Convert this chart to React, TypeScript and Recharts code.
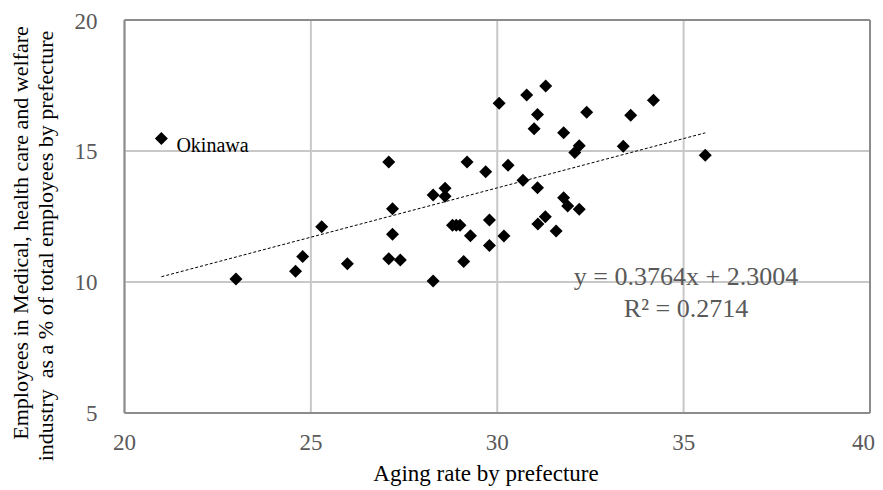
import React from "react";
import {
  ScatterChart,
  Scatter,
  XAxis,
  YAxis,
  CartesianGrid,
  ReferenceLine,
  LabelList,
} from "recharts";

// aging rate (%) by prefecture
const agingRate = [
  20.99, 22.99, 24.59, 24.78, 25.29, 25.98, 27.09, 27.19, 27.19, 27.09, 27.4,
  28.28, 28.28, 28.6, 28.6, 28.8, 28.9, 29.0, 29.1, 29.19, 29.28, 29.69, 29.79,
  29.79, 30.05, 30.18, 30.29, 30.69, 30.79, 30.99, 31.08, 31.08, 31.09, 31.29,
  31.3, 31.58, 31.78, 31.78, 31.89, 32.08, 32.2, 32.2, 32.4, 33.38, 33.58,
  34.19, 35.58,
];

// medical, health care & welfare employees as % of total
const medicalShare = [
  15.48, 10.11, 10.41, 10.97, 12.11, 10.7, 14.58, 12.8, 11.82, 10.89, 10.84,
  10.04, 13.32, 13.58, 13.27, 12.17, 12.17, 12.17, 10.78, 14.58, 11.77, 14.21,
  12.37, 11.39, 16.82, 11.76, 14.46, 13.88, 17.14, 15.85, 16.39, 13.6, 12.21,
  12.49, 17.48, 11.95, 15.7, 13.22, 12.9, 14.94, 15.2, 12.78, 16.48, 15.18,
  16.36, 16.94, 14.84,
];

const pointNames = ["Okinawa"];

const xTicks = [20, 25, 30, 35, 40];
const yTicks = [5, 10, 15, 20];

const slope = 0.3764;
const intercept = 2.3004;
const rSquared = 0.2714;

const points = agingRate.map((x, i) => ({
  x,
  y: medicalShare[i],
  name: pointNames[i] || "",
}));

const xMin = Math.min(...agingRate);
const xMax = Math.max(...agingRate);
const trend = [
  { x: xMin, y: slope * xMin + intercept },
  { x: xMax, y: slope * xMax + intercept },
];

const FONT = "'Liberation Serif', 'Times New Roman', serif";
const AXIS_GRAY = "#8c8c8c";
const TEXT_GRAY = "#595959";

const Diamond = (props: any) => {
  const { cx, cy } = props;
  const r = 6.5;
  return (
    <polygon
      points={`${cx},${cy - r} ${cx + r},${cy} ${cx},${cy + r} ${cx - r},${cy}`}
      fill="#000"
    />
  );
};

const NoShape = () => <g />;

const NameLabel = (props: any) => {
  const { x, y, width, height, value } = props;
  if (!value) return null;
  const cx = x + (width || 0) / 2;
  const cy = y + (height || 0) / 2;
  return (
    <text x={cx + 15} y={cy + 14} fontSize={20} fontFamily={FONT} fill="#000">
      {value}
    </text>
  );
};

export default function App() {
  return (
    <div style={{ position: "relative", width: 867, height: 480 }}>
      <ScatterChart
        width={867}
        height={480}
        margin={{ top: 12, right: 5, left: 0, bottom: 0 }}
      >
        <CartesianGrid
          stroke="#c8c8c8"
          strokeWidth={2}
          horizontalValues={yTicks}
          verticalValues={xTicks}
        />
        <XAxis
          type="number"
          dataKey="x"
          domain={[20, 40]}
          ticks={xTicks}
          height={75}
          tickSize={0}
          tickMargin={21}
          axisLine={{ stroke: AXIS_GRAY, strokeWidth: 2 }}
          tick={{ fontSize: 23, fontFamily: FONT, fill: TEXT_GRAY }}
        />
        <YAxis
          type="number"
          dataKey="y"
          domain={[5, 20]}
          ticks={yTicks}
          width={116.5}
          tickSize={0}
          tickMargin={27}
          axisLine={{ stroke: AXIS_GRAY, strokeWidth: 2 }}
          tick={{ fontSize: 23, fontFamily: FONT, fill: TEXT_GRAY }}
        />
        <ReferenceLine y={20} stroke={AXIS_GRAY} strokeWidth={2} />
        <ReferenceLine x={40} stroke={AXIS_GRAY} strokeWidth={2} />
        <Scatter
          data={trend}
          line={{ stroke: "#000", strokeWidth: 1, strokeDasharray: "3 2" }}
          shape={<NoShape />}
          isAnimationActive={false}
        />
        <Scatter data={points} shape={<Diamond />} isAnimationActive={false}>
          <LabelList dataKey="name" content={<NameLabel />} />
        </Scatter>
      </ScatterChart>
      <svg
        width={867}
        height={480}
        style={{ position: "absolute", left: 0, top: 0, pointerEvents: "none" }}
        fontFamily={FONT}
      >
        <text
          transform="translate(12,225) rotate(-90)"
          textAnchor="middle"
          dominantBaseline="central"
          fontSize={22}
          fill="#000"
        >
          Employees in Medical, health care and welfare
        </text>
        <text
          transform="translate(37,238) rotate(-90)"
          textAnchor="middle"
          dominantBaseline="central"
          fontSize={22}
          fill="#000"
          style={{ whiteSpace: "pre" }}
        >
          {"industry  as a % of total employees by prefecture"}
        </text>
        <text x={478} y={473} textAnchor="middle" fontSize={23} fill="#000">
          Aging rate by prefecture
        </text>
        <text x={678} y={277} textAnchor="middle" fontSize={26} fill={TEXT_GRAY}>
          {`y = ${slope}x + ${intercept}`}
        </text>
        <text x={678} y={309} textAnchor="middle" fontSize={26} fill={TEXT_GRAY}>
          {`R² = ${rSquared}`}
        </text>
      </svg>
    </div>
  );
}
